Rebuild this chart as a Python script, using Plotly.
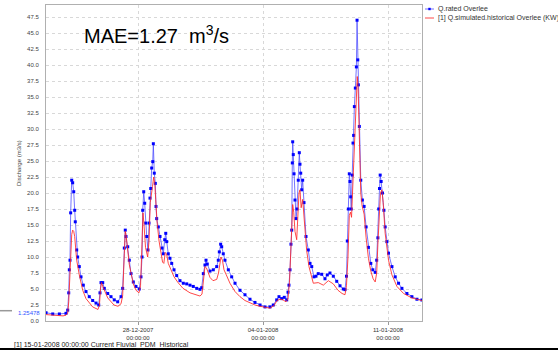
import pandas as pd
import plotly.graph_objects as go

BASE = pd.Timestamp("2007-12-22 00:00")

# hours since 2007-12-22 00:00 and discharge (m3/s)
obs_hours = [20.4, 29.4, 38.3, 47.2, 49.5, 50.9, 51.7, 52.6, 53.5, 54.9, 56.2, 57.6, 58.9, 59.7, 61.6,
             62.9, 65.1, 67.4, 70.5, 74.1, 78.5, 83.1, 87.6, 91.2, 92.9, 94.3, 96.6, 98.7, 103.3, 107.7,
             112.1, 116.7, 121.2, 123.4, 125.6, 126.9, 127.9, 130.2, 132.3, 134.6, 137.7, 141.3, 145.7,
             148.0, 149.4, 150.3, 151.7, 153.0, 154.3, 155.7, 157.4, 158.8, 160.1, 161.1, 162.4, 163.8,
             164.6, 165.9, 167.3, 168.2, 169.1, 171.3, 173.6, 176.3, 178.0, 179.9, 181.3, 182.6, 184.7,
             187.0, 189.3, 192.4, 196.0, 200.4, 204.9, 209.5, 213.9, 218.3, 222.9, 227.3, 229.6, 231.8,
             234.0, 235.4, 237.1, 240.8, 245.2, 249.8, 251.9, 253.3, 255.1, 256.5, 258.6, 260.9, 265.4,
             269.9, 274.4, 281.1, 287.8, 294.5, 301.2, 308.0, 314.7, 321.4, 325.8, 330.4, 333.5, 337.1,
             340.6, 343.9, 345.6, 346.9, 348.3, 349.6, 350.6, 351.4, 351.9, 352.7, 353.7, 355.0, 356.4,
             357.7, 359.4, 360.8, 361.7, 362.7, 364.0, 365.3, 367.1, 369.8, 372.9, 375.2, 377.5, 380.5,
             383.2, 386.3, 390.9, 395.3, 398.4, 402.0, 406.5, 411.1, 415.5, 419.9, 422.2, 424.2, 425.3,
             426.7, 428.0, 428.9, 429.9, 430.6, 431.9, 433.0, 433.8, 434.8, 436.1, 437.5, 438.4, 439.4,
             440.2, 441.5, 443.4, 445.6, 447.9, 450.6, 453.7, 456.9, 459.6, 462.8, 464.8, 466.4, 467.5,
             468.6, 469.5, 470.8, 472.6, 474.5, 476.2, 478.5, 480.7, 485.3, 489.7, 494.2, 498.7, 505.4,
             512.1, 518.9, 525.6]
obs_values = [1.3, 1.1, 1.1, 1.2, 1.7, 4.4, 8.0, 9.5, 16.9, 22.0, 21.6, 20.2, 17.3, 15.5, 11.1,
              10.0, 8.5, 6.9, 5.6, 4.6, 3.8, 3.2, 2.8, 2.5, 4.4, 6.0, 6.0, 5.1, 4.3, 3.8,
              3.3, 3.0, 3.8, 5.1, 11.4, 14.2, 13.2, 11.6, 9.5, 7.4, 6.1, 5.4, 5.0,
              6.9, 10.0, 17.3, 20.2, 18.4, 15.3, 13.2, 11.1, 15.3, 19.2, 20.7, 23.9, 24.9,
              27.7, 23.1, 21.5, 17.9, 16.0, 14.7, 13.2, 11.4, 10.5, 12.7, 13.7, 12.4, 10.5,
              9.8, 9.0, 8.0, 7.1, 6.3, 5.9, 5.8, 5.6, 5.4, 5.1, 4.95, 5.2, 7.4,
              8.75, 9.5, 8.9, 7.8, 8.0, 8.5, 9.5, 10.8, 12.0, 11.6, 10.5, 9.5, 8.0,
              6.9, 5.9, 4.8, 4.1, 3.4, 2.9, 2.5, 2.2, 2.2, 2.5, 3.3, 3.8, 3.5,
              3.7, 3.3, 4.5, 5.6, 8.0, 12.0, 14.2, 24.7, 28.0, 26.0, 23.0, 18.9, 16.0,
              17.5, 22.0, 26.3, 24.5, 23.1, 20.5, 22.0, 18.5, 13.2, 11.1, 9.0, 8.5, 6.9,
              7.0, 7.4, 7.3, 6.6, 7.2, 7.5, 7.0, 6.2, 5.5, 5.0, 4.9, 7.0, 12.5,
              17.5, 23.0, 21.8, 19.4, 17.5, 22.8, 27.8, 29.0, 33.5, 36.4, 39.7, 47.0, 40.8,
              36.9, 30.4, 22.0, 18.9, 17.9, 14.7, 11.5, 9.0, 8.0, 7.6, 9.5, 13.0, 17.5,
              20.7, 22.8, 21.8, 20.0, 17.3, 14.7, 12.4, 10.6, 8.5, 6.9, 5.9, 5.1, 4.3,
              3.8, 3.4, 3.3]

sim_hours = [20.4, 32.5, 43.2, 47.2, 49.5, 50.9, 52.0, 53.3, 54.9, 56.2, 57.6, 58.9, 61.6, 65.1, 69.7,
             74.1, 83.1, 90.2, 92.2, 93.6, 94.9, 97.0, 103.3, 111.7, 117.1, 121.2, 123.4, 125.6, 126.9,
             127.9, 132.3, 137.7, 141.3, 145.3, 147.4, 149.4, 150.7, 152.1, 154.1, 157.0, 158.8, 160.5,
             162.1, 163.5, 165.1, 166.5, 167.8, 169.6, 172.3, 175.0, 177.0, 178.7, 180.6, 182.4, 184.7,
             188.4, 192.4, 197.8, 204.5, 213.9, 222.0, 227.3, 230.0, 232.0, 234.0, 236.0, 238.1, 240.8,
             244.8, 249.8, 252.2, 254.2, 255.5, 257.5, 259.6, 262.3, 267.6, 274.4, 281.1, 287.8, 294.5,
             301.2, 308.0, 314.7, 321.4, 326.8, 330.8, 334.8, 338.9, 342.9, 345.6, 347.6, 348.9, 350.6,
             351.9, 353.3, 355.0, 357.3, 358.6, 360.4, 361.7, 363.3, 365.3, 367.1, 370.7, 373.8, 379.6,
             386.3, 393.1, 399.8, 406.5, 412.8, 418.2, 422.2, 424.2, 426.2, 428.0, 429.6, 431.0, 432.3,
             434.4, 436.1, 437.5, 438.7, 439.8, 441.5, 443.4, 445.2, 447.9, 450.6, 453.7, 456.9, 460.0,
             462.8, 464.8, 466.4, 468.2, 469.9, 471.8, 473.5, 476.2, 480.7, 485.3, 492.0, 500.9, 512.1,
             525.6]
sim_values = [1.0, 0.9, 0.8, 0.9, 1.2, 3.0, 6.0, 10.5, 13.5, 14.2, 14.0, 13.2, 9.5, 7.2, 4.8,
              3.5, 2.2, 1.8, 2.5, 5.0, 6.0, 5.3, 3.6, 2.5, 2.3, 2.7, 4.0, 10.5, 14.0,
              13.5, 8.8, 5.8, 4.8, 4.4, 5.5, 12.0, 16.9, 15.0, 11.5, 10.0, 12.5, 18.5,
              19.5, 21.0, 22.5, 21.5, 19.0, 15.5, 12.5, 10.5, 9.2, 9.0, 10.7, 10.5, 9.0,
              8.0, 6.9, 6.0, 5.1, 4.4, 4.1, 3.9, 4.2, 7.0, 8.5, 8.3, 7.5, 6.8,
              6.3, 6.5, 7.5, 9.3, 10.0, 9.5, 8.0, 7.3, 5.9, 4.6, 3.8, 3.2, 2.8,
              2.5, 2.3, 2.1, 2.0, 2.4, 3.2, 3.4, 3.3, 3.0, 3.5, 6.0, 10.0, 15.0,
              18.2, 17.0, 14.0, 12.7, 15.5, 20.0, 20.5, 17.7, 19.0, 16.0, 11.0, 8.5, 5.9,
              6.0, 5.6, 6.3, 5.8, 4.8, 4.3, 4.1, 5.5, 10.0, 16.5, 17.0, 16.2, 20.0,
              27.0, 32.0, 36.5, 38.2, 36.5, 29.0, 20.0, 18.0, 16.7, 13.0, 9.8, 7.8, 6.6,
              6.1, 7.5, 12.0, 17.5, 20.0, 20.5, 18.5, 13.7, 9.5, 7.2, 5.4, 4.3, 3.6,
              3.2]

series_names = ["Q.rated Overlee", "[1] Q.simulated.historical Overlee (KW)"]
x_tick_dates = ["2007-12-28", "2008-01-04", "2008-01-11"]
x_tick_text = ["28-12-2007<br>00:00:00", "04-01-2008<br>00:00:00", "11-01-2008<br>00:00:00"]
y_ticks = [i * 2.5 for i in range(20)]
y_tick_text = ["%.1f" % v for v in y_ticks]

obs_t = BASE + pd.to_timedelta(obs_hours, unit="h")
sim_t = BASE + pd.to_timedelta(sim_hours, unit="h")

FONT = "Liberation Sans, Arial, sans-serif"
W, H = 558, 350
L, R, T, B = 46, 136, 5, 29
pw, ph = W - L - R, H - T - B
BLUE_LINE = "rgba(70,70,255,0.75)"
BLUE_MARK = "#0000ff"
RED_LINE = "rgba(255,40,40,0.85)"

def px_x(px):
    return (px - L) / pw

def px_y(py):
    return (H - B - py) / ph

fig = go.Figure()
fig.add_trace(go.Scatter(
    x=obs_t, y=obs_values, name=series_names[0], mode="lines+markers",
    line=dict(color=BLUE_LINE, width=1),
    marker=dict(color=BLUE_MARK, size=3, symbol="square"),
))
fig.add_trace(go.Scatter(
    x=sim_t, y=sim_values, name=series_names[1], mode="lines",
    line=dict(color=RED_LINE, width=1),
))

fig.update_layout(
    width=W, height=H,
    margin=dict(l=L, r=R, t=T, b=B, pad=0, autoexpand=False),
    paper_bgcolor="white", plot_bgcolor="white",
    font=dict(family=FONT, size=7, color="#333333"),
    showlegend=False,
    xaxis=dict(
        range=[BASE + pd.Timedelta(hours=20.35), BASE + pd.Timedelta(hours=525.7)],
        tickvals=pd.to_datetime(x_tick_dates), ticktext=x_tick_text,
        showgrid=True, gridcolor="#d8d8d8", griddash="dot", gridwidth=1,
        showline=True, linecolor="#b0b0b0", mirror=True,
        ticks="outside", ticklen=3, tickcolor="#999999",
        tickfont=dict(size=6, color="#333333"), zeroline=False,
    ),
    yaxis=dict(
        range=[0, (H - B - T) / 6.4],
        tickvals=y_ticks, ticktext=y_tick_text,
        showgrid=True, gridcolor="#d8d8d8", griddash="dot", gridwidth=1,
        showline=True, linecolor="#b0b0b0", mirror=True,
        ticks="", ticklabelstandoff=5,
        tickfont=dict(size=6, color="#444444"), zeroline=False,
    ),
)

# legend (drawn as shapes + text)
leg_rows = [9, 18]
leg_colors = [BLUE_LINE, RED_LINE]
for i, (yy, col) in enumerate(zip(leg_rows, leg_colors)):
    fig.add_shape(type="line", xref="paper", yref="paper",
                  x0=px_x(425), x1=px_x(434), y0=px_y(yy), y1=px_y(yy),
                  line=dict(color=col, width=1))
    fig.add_annotation(xref="paper", yref="paper", x=px_x(436), y=px_y(yy),
                       text=series_names[i], showarrow=False, xanchor="left", yanchor="middle",
                       font=dict(family=FONT, size=7, color="#333333"))
fig.add_shape(type="rect", xref="paper", yref="paper",
              x0=px_x(428.3), x1=px_x(430.7), y0=px_y(10.2), y1=px_y(7.8),
              line=dict(width=0), fillcolor=BLUE_MARK)

fig.add_annotation(xref="paper", yref="paper", x=px_x(82), y=px_y(35),
                   text="MAE=1.27  m<sup>3</sup>/s", showarrow=False,
                   xanchor="left", yanchor="middle",
                   font=dict(family=FONT, size=20, color="black"))
fig.add_annotation(xref="paper", yref="paper", x=px_x(14), y=px_y(163),
                   text="Discharge (m3/s)", textangle=-90, showarrow=False,
                   font=dict(family=FONT, size=6, color="#444444"))
fig.add_annotation(xref="paper", yref="y", x=px_x(42), y=1.25478,
                   text="1.25478", showarrow=False, xanchor="right", yanchor="middle",
                   font=dict(family=FONT, size=6, color="#3355ff"))
fig.add_shape(type="line", xref="paper", yref="paper",
              x0=px_x(0), x1=px_x(12), y0=px_y(310.7), y1=px_y(310.7),
              line=dict(color="#999999", width=1.5))
fig.add_annotation(xref="paper", yref="paper", x=px_x(12), y=px_y(345),
                   text="[1] 15-01-2008 00:00:00 Current Fluvial_PDM_Historical", showarrow=False,
                   xanchor="left", yanchor="middle",
                   font=dict(family=FONT, size=7, color="#222222"))
fig.add_shape(type="rect", xref="paper", yref="paper",
              x0=px_x(0), x1=px_x(W), y0=px_y(350), y1=px_y(348),
              line=dict(width=0), fillcolor="black", layer="above")

fig.write_html("out.html", config={"displayModeBar": False},
               post_script="document.body.style.margin='0';")
